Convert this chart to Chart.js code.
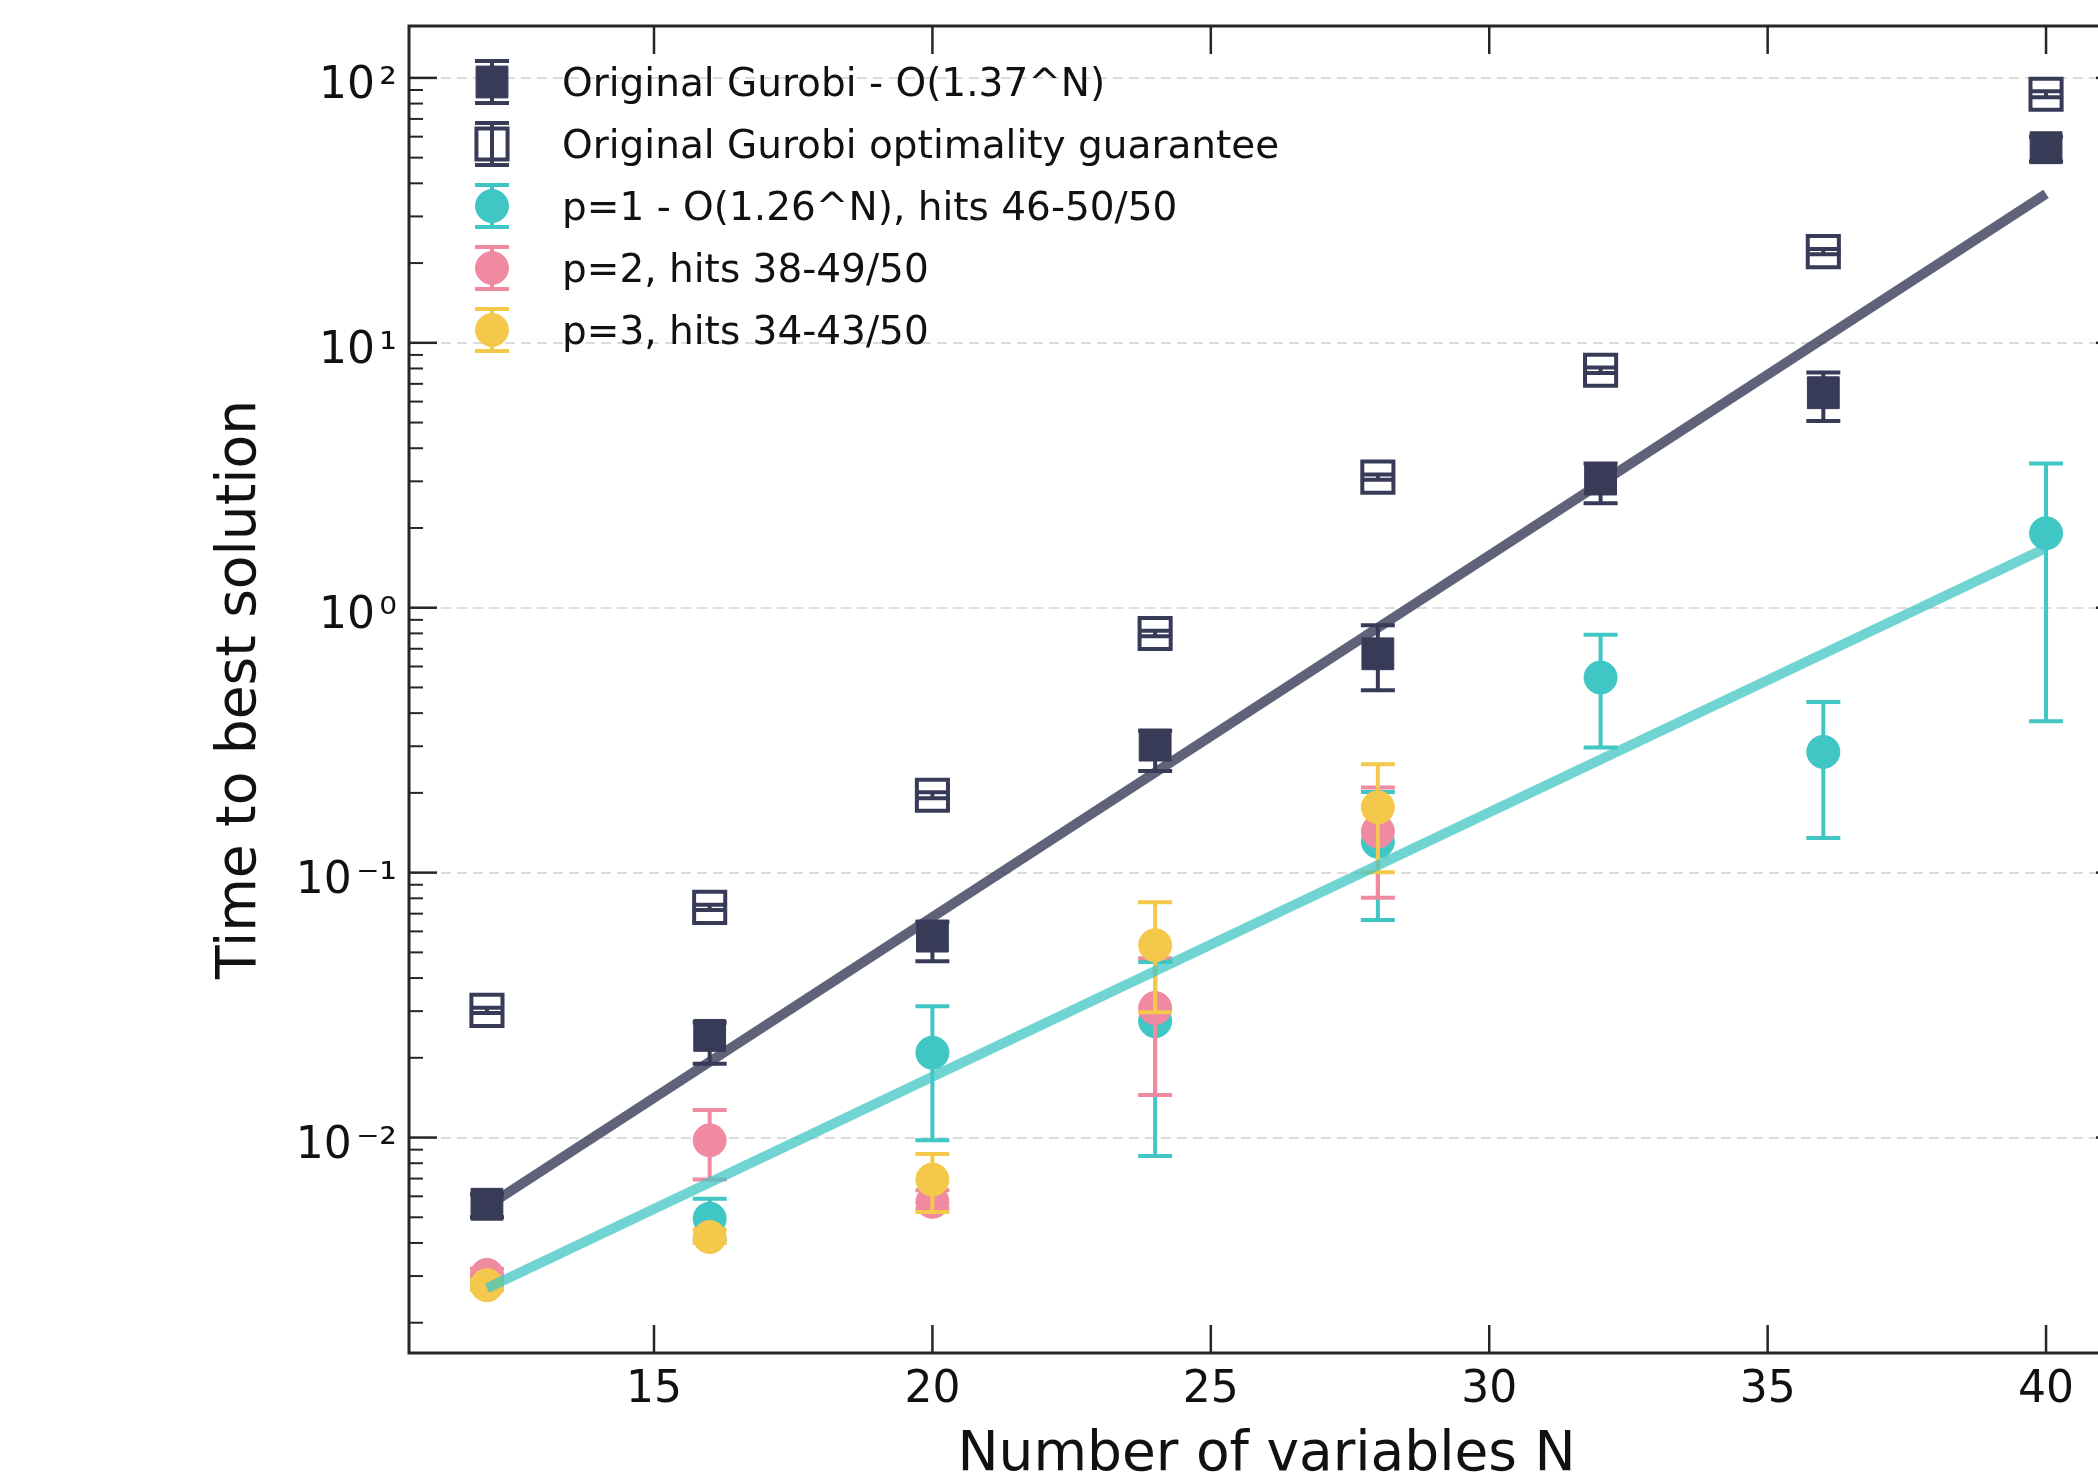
<!DOCTYPE html>
<html><head><meta charset="utf-8">
<style>html,body{margin:0;padding:0;overflow:hidden;background:#fff}#wrap{width:2160px;height:1479px}</style>
<script src="https://cdn.jsdelivr.net/npm/chart.js@4.4.1/dist/chart.umd.min.js"></script>
</head><body><div id="wrap"><canvas id="c" width="2160" height="1479"></canvas></div>
<script>
// ---------- data ----------
const N  = [12, 16, 20, 24, 28, 32, 36, 40];
const Np = [12, 16, 20, 24, 28];

const gurobi   = [0.0056, 0.0243, 0.0576, 0.303, 0.670, 3.06, 6.48, 54.5];
const gurobiLo = [0.0050, 0.0190, 0.0463, 0.242, 0.488, 2.48, 5.07, 48.3];
const gurobiHi = [0.0061, 0.0272, 0.0653, 0.343, 0.859, 3.50, 7.73, 60.0];

const guarantee   = [0.0302, 0.0739, 0.196, 0.799, 3.11, 7.88, 22.1, 86.8];
const guaranteeLo = [0.0295, 0.0722, 0.191, 0.780, 3.04, 7.70, 21.6, 84.5];
const guaranteeHi = [0.0309, 0.0757, 0.201, 0.818, 3.18, 8.07, 22.6, 89.0];

const p1   = [0.0028, 0.00494, 0.0209, 0.0275, 0.1309, 0.545, 0.2856, 1.91];
const p1Lo = [0.0027, 0.0041, 0.00976, 0.00852, 0.0662, 0.297, 0.135, 0.373];
const p1Hi = [0.0029, 0.00588, 0.0313, 0.046, 0.2015, 0.790, 0.4406, 3.50];

const p2   = [0.00303, 0.00976, 0.00572, 0.0308, 0.1431];
const p2Lo = [0.0029, 0.00694, 0.00539, 0.01446, 0.0803];
const p2Hi = [0.0032, 0.0127, 0.00632, 0.0475, 0.2094];

const p3   = [0.00277, 0.00421, 0.00694, 0.0532, 0.1764];
const p3Lo = [0.00265, 0.0040, 0.00523, 0.0297, 0.1004];
const p3Hi = [0.0029, 0.0045, 0.00867, 0.0773, 0.2566];

const fitX       = [12, 40];
const gurobiFitY = [0.0055, 36.5];
const p1FitY     = [0.0027, 1.68];

const labels = [
  'Original Gurobi - O(1.37^N)',
  'Original Gurobi optimality guarantee',
  'p=1 - O(1.26^N), hits 46-50/50',
  'p=2, hits 38-49/50',
  'p=3, hits 34-43/50'
];
const xTickValues = [15, 20, 25, 30, 35, 40];
const yTickValues = [0.01, 0.1, 1, 10, 100];
const yTickLabels = ['10\u200A\u207B\u00B2', '10\u200A\u207B\u00B9', '10\u200A\u2070', '10\u200A\u00B9', '10\u200A\u00B2'];
const xTitle = 'Number of variables N';
const yTitle = 'Time to best solution';

// ---------- styles ----------
const NAVY = '#383b57', CYAN = '#40c6c4', PINK = '#f08aa0', YELLOW = '#f4c84a';
const FONT = "'DejaVu Sans', sans-serif";
Chart.defaults.font.family = FONT;

function pts(xs, ys) { return xs.map((x, i) => ({x: x, y: ys[i]})); }

const errorBars = {
  id: 'errorBars',
  beforeDatasetDraw(chart, args) {
    const ds = chart.data.datasets[args.index];
    if (!ds.errLo) return;
    const ctx = chart.ctx, a = chart.chartArea;
    const xs = chart.scales.x, ys = chart.scales.y;
    ctx.save();
    ctx.beginPath(); ctx.rect(a.left, a.top, a.width, a.height); ctx.clip();
    ctx.strokeStyle = ds.borderColor; ctx.lineWidth = 4; ctx.lineCap = 'butt';
    ds.data.forEach((p, i) => {
      const px = xs.getPixelForValue(p.x);
      const y1 = ys.getPixelForValue(ds.errLo[i]);
      const y2 = ys.getPixelForValue(ds.errHi[i]);
      ctx.beginPath();
      ctx.moveTo(px, y1); ctx.lineTo(px, y2);
      ctx.moveTo(px - 17, y1); ctx.lineTo(px + 17, y1);
      ctx.moveTo(px - 17, y2); ctx.lineTo(px + 17, y2);
      ctx.stroke();
    });
    ctx.restore();
  }
};

const axesBox = {
  id: 'axesBox',
  afterDatasetsDraw(chart) {
    const ctx = chart.ctx, a = chart.chartArea;
    const xs = chart.scales.x, ys = chart.scales.y;
    ctx.save();
    ctx.strokeStyle = '#262626';
    const seg = (x1, y1, x2, y2) => { ctx.beginPath(); ctx.moveTo(x1, y1); ctx.lineTo(x2, y2); ctx.stroke(); };
    ctx.lineWidth = 2.5;
    yTickValues.forEach(v => {
      const p = ys.getPixelForValue(v);
      if (p < a.top || p > a.bottom) return;
      seg(a.left, p, a.left + 28, p); seg(a.right, p, a.right - 28, p);
    });
    ctx.lineWidth = 2;
    for (let e = -3; e <= 2; e++) {
      for (let m = 2; m <= 9; m++) {
        const v = m * Math.pow(10, e);
        if (v < ys.min || v > ys.max) continue;
        const p = ys.getPixelForValue(v);
        seg(a.left, p, a.left + 14, p); seg(a.right, p, a.right - 14, p);
      }
    }
    ctx.lineWidth = 2.5;
    xTickValues.forEach(v => {
      const p = xs.getPixelForValue(v);
      seg(p, a.bottom, p, a.bottom - 28); seg(p, a.top, p, a.top + 28);
    });
    ctx.lineWidth = 3;
    ctx.strokeRect(a.left, a.top, a.width, a.height);
    ctx.restore();
  }
};

const legendBox = {
  id: 'legendBox',
  afterDraw(chart) {
    const ctx = chart.ctx, a = chart.chartArea;
    const items = chart.data.datasets.filter(d => d.errLo);
    ctx.save();
    items.forEach((ds, i) => {
      const cx = a.left + 83, cy = a.top + 56 + i * 62;
      ctx.strokeStyle = ds.borderColor; ctx.lineWidth = 4;
      ctx.beginPath();
      ctx.moveTo(cx, cy - 21); ctx.lineTo(cx, cy + 21);
      ctx.moveTo(cx - 17, cy - 21); ctx.lineTo(cx + 17, cy - 21);
      ctx.moveTo(cx - 17, cy + 21); ctx.lineTo(cx + 17, cy + 21);
      ctx.stroke();
      ctx.lineWidth = ds.borderWidth;
      ctx.fillStyle = ds.backgroundColor;
      ctx.beginPath();
      if (ds.pointStyle === 'rect') {
        const h = Math.SQRT1_2 * ds.pointRadius;
        ctx.rect(cx - h, cy - h, 2 * h, 2 * h);
      } else {
        ctx.arc(cx, cy, ds.pointRadius, 0, Math.PI * 2);
      }
      ctx.fill(); ctx.stroke();
      ctx.fillStyle = '#111';
      ctx.font = '39px ' + FONT;
      ctx.textBaseline = 'middle';
      ctx.textAlign = 'left';
      ctx.fillText(ds.label, a.left + 153, cy + 4);
    });
    ctx.restore();
  }
};

const markerDs = (label, xs, ys, lo, hi, color, style, radius, fill, bw, order) => ({
  type: 'scatter', label: label, data: pts(xs, ys), errLo: lo, errHi: hi,
  pointStyle: style, pointRadius: radius, pointHoverRadius: radius,
  backgroundColor: fill, borderColor: color, borderWidth: bw,
  pointBackgroundColor: fill, pointBorderColor: color, pointBorderWidth: bw,
  showLine: false, order: order
});

new Chart(document.getElementById('c'), {
  type: 'scatter',
  data: {
    datasets: [
      markerDs(labels[0], N, gurobi, gurobiLo, gurobiHi, NAVY, 'rect', 22.5, NAVY, 1, 7),
      markerDs(labels[1], N, guarantee, guaranteeLo, guaranteeHi, NAVY, 'rect', 22, 'rgba(255,255,255,0)', 4, 6),
      markerDs(labels[2], N, p1, p1Lo, p1Hi, CYAN, 'circle', 16.5, CYAN, 1, 5),
      markerDs(labels[3], Np, p2, p2Lo, p2Hi, PINK, 'circle', 16.5, PINK, 1, 4),
      markerDs(labels[4], Np, p3, p3Lo, p3Hi, YELLOW, 'circle', 16.5, YELLOW, 1, 3),
      { type: 'scatter', label: 'Gurobi fit', data: pts(fitX, gurobiFitY), showLine: true,
        borderColor: 'rgba(56,59,87,0.8)', borderWidth: 10, pointRadius: 0, order: 2 },
      { type: 'scatter', label: 'p=1 fit', data: pts(fitX, p1FitY), showLine: true,
        borderColor: 'rgba(64,198,196,0.75)', borderWidth: 10, pointRadius: 0, order: 1 }
    ]
  },
  options: {
    responsive: false, animation: false, events: [],
    layout: { padding: { left: 0, right: 36, top: 24, bottom: 0 } },
    plugins: { legend: { display: false }, tooltip: { enabled: false } },
    scales: {
      x: {
        type: 'linear', min: 10.6, max: 41.4,
        afterBuildTicks: s => { s.ticks = xTickValues.map(v => ({value: v})); },
        afterFit: s => { s.height = 126; s.paddingLeft = 0; s.paddingRight = 0; },
        grid: { display: false, drawTicks: false },
        border: { display: false },
        ticks: { padding: 11, color: '#111', font: { size: 44, family: FONT }, maxRotation: 0, autoSkip: false,
                 callback: v => String(v) },
        title: { display: true, text: xTitle, color: '#111', font: { size: 55, family: FONT, lineHeight: 0.8 },
                 padding: { top: 0, bottom: 1 } }
      },
      y: {
        type: 'logarithmic', min: 0.001537, max: 157,
        afterBuildTicks: s => { s.ticks = yTickValues.map(v => ({value: v})); },
        afterFit: s => { s.width = 409; s.paddingTop = 0; s.paddingBottom = 0; },
        grid: { display: true, drawTicks: false, color: '#dcdcdc', lineWidth: 2, borderDash: [10, 6] },
        border: { display: false, dash: [10, 6] },
        ticks: { padding: 12, labelOffset: 9, color: '#111', font: { size: 44, family: FONT }, autoSkip: false,
                 callback: v => yTickLabels[yTickValues.indexOf(v)] },
        title: { display: true, text: yTitle, color: '#111', font: { size: 55, family: FONT, lineHeight: 1.0 },
                 padding: { top: 213, bottom: 0 } }
      }
    }
  },
  plugins: [errorBars, axesBox, legendBox]
});
</script></body></html>
